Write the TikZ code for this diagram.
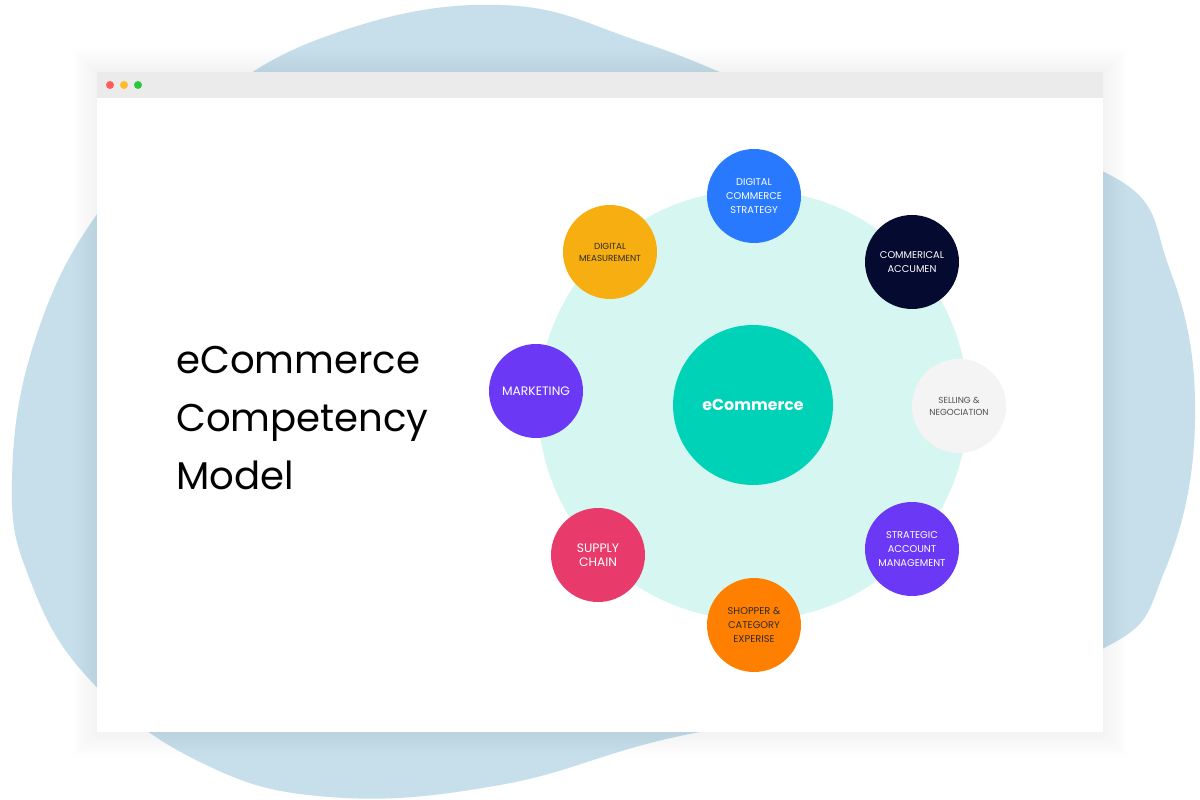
\documentclass[tikz,border=0pt]{standalone}
\usepackage{fontspec}
\setmainfont{Poppins}
\usetikzlibrary{positioning}

\definecolor{blobblue}{HTML}{C6DFEB}
\definecolor{barGray}{HTML}{EBEBEB}
\definecolor{dotRed}{HTML}{FF5F57}
\definecolor{dotYellow}{HTML}{FEBC2E}
\definecolor{dotGreen}{HTML}{28C840}
\definecolor{mint}{HTML}{D5F6F1}
\definecolor{teal}{HTML}{00D2B8}
\definecolor{blueDCS}{HTML}{2979FF}
\definecolor{navy}{HTML}{050A30}
\definecolor{lightGray}{HTML}{F4F4F4}
\definecolor{violet}{HTML}{6B38F5}
\definecolor{orangeSC}{HTML}{FF8000}
\definecolor{pinkSC}{HTML}{E83B6B}
\definecolor{amber}{HTML}{F7AE10}
\definecolor{darkText}{HTML}{2B2B2B}
\definecolor{grayText}{HTML}{505050}

\begin{document}
\begin{tikzpicture}[x=0.02cm, y=-0.02cm,
  sat/.style={circle, minimum size=1.88cm, inner sep=0pt, align=center, font=\fontsize{5.6}{7.8}\selectfont},
  satsmall/.style={sat, font=\fontsize{5}{6.8}\selectfont},
  satbig/.style={sat, font=\fontsize{7}{8}\selectfont}]

\useasboundingbox (0,0) rectangle (1200,800);
\fill[white] (0,0) rectangle (1200,800);

% Background blob
\fill[blobblue] plot[smooth cycle, tension=0.7] coordinates {
  (500,5) (650,45) (850,120) (1100,170) (1170,270) (1195,420) (1165,570)
  (1100,650) (900,700) (680,736) (500,785) (330,797) (200,762) (90,680)
  (30,580) (12,480) (35,340) (100,210) (200,110) (330,35)};

% Browser window with a soft shadow
\foreach \s in {2,4,...,24}
  \fill[black, opacity=0.004] (97-\s,72-\s) rectangle (1103+\s,732+\s);
\fill[white] (97,72) rectangle (1103,732);
\fill[barGray] (97,72) rectangle (1103,98);
\fill[dotRed] (110,85) circle[radius=4];
\fill[dotYellow] (124,85) circle[radius=4];
\fill[dotGreen] (138,85) circle[radius=4];

% Title
\node[anchor=west, align=left, font=\fontsize{22}{33}\selectfont] (title) at (170,418)
  {eCommerce\\Competency\\Model};

% Ring and centre
\fill[mint] (753,405) circle[radius=215];
\node[circle, minimum size=3.2cm, fill=teal, text=white, font=\fontsize{9}{11}\selectfont\bfseries] (core) at (753,405) {eCommerce};

% Competencies
\node[sat, fill=blueDCS, text=white] (strategy) at (754,196) {DIGITAL\\COMMERCE\\STRATEGY};
\node[sat, fill=navy, text=white] (acumen) at (912,262) {COMMERICAL\\ACCUMEN};
\node[satsmall, fill=lightGray, text=grayText] (selling) at (959,406) {SELLING \&\\NEGOCIATION};
\node[sat, fill=violet, text=white] (account) at (912,549) {STRATEGIC\\ACCOUNT\\MANAGEMENT};
\node[sat, fill=orangeSC, text=darkText] (shopper) at (754,625) {SHOPPER \&\\CATEGORY\\EXPERISE};
\node[satbig, fill=pinkSC, text=white] (supply) at (598,555) {SUPPLY\\CHAIN};
\node[satbig, fill=violet, text=white] (marketing) at (536,391) {MARKETING};
\node[satsmall, fill=amber, text=darkText] (measure) at (610,252) {DIGITAL\\MEASUREMENT};

\end{tikzpicture}
\end{document}
